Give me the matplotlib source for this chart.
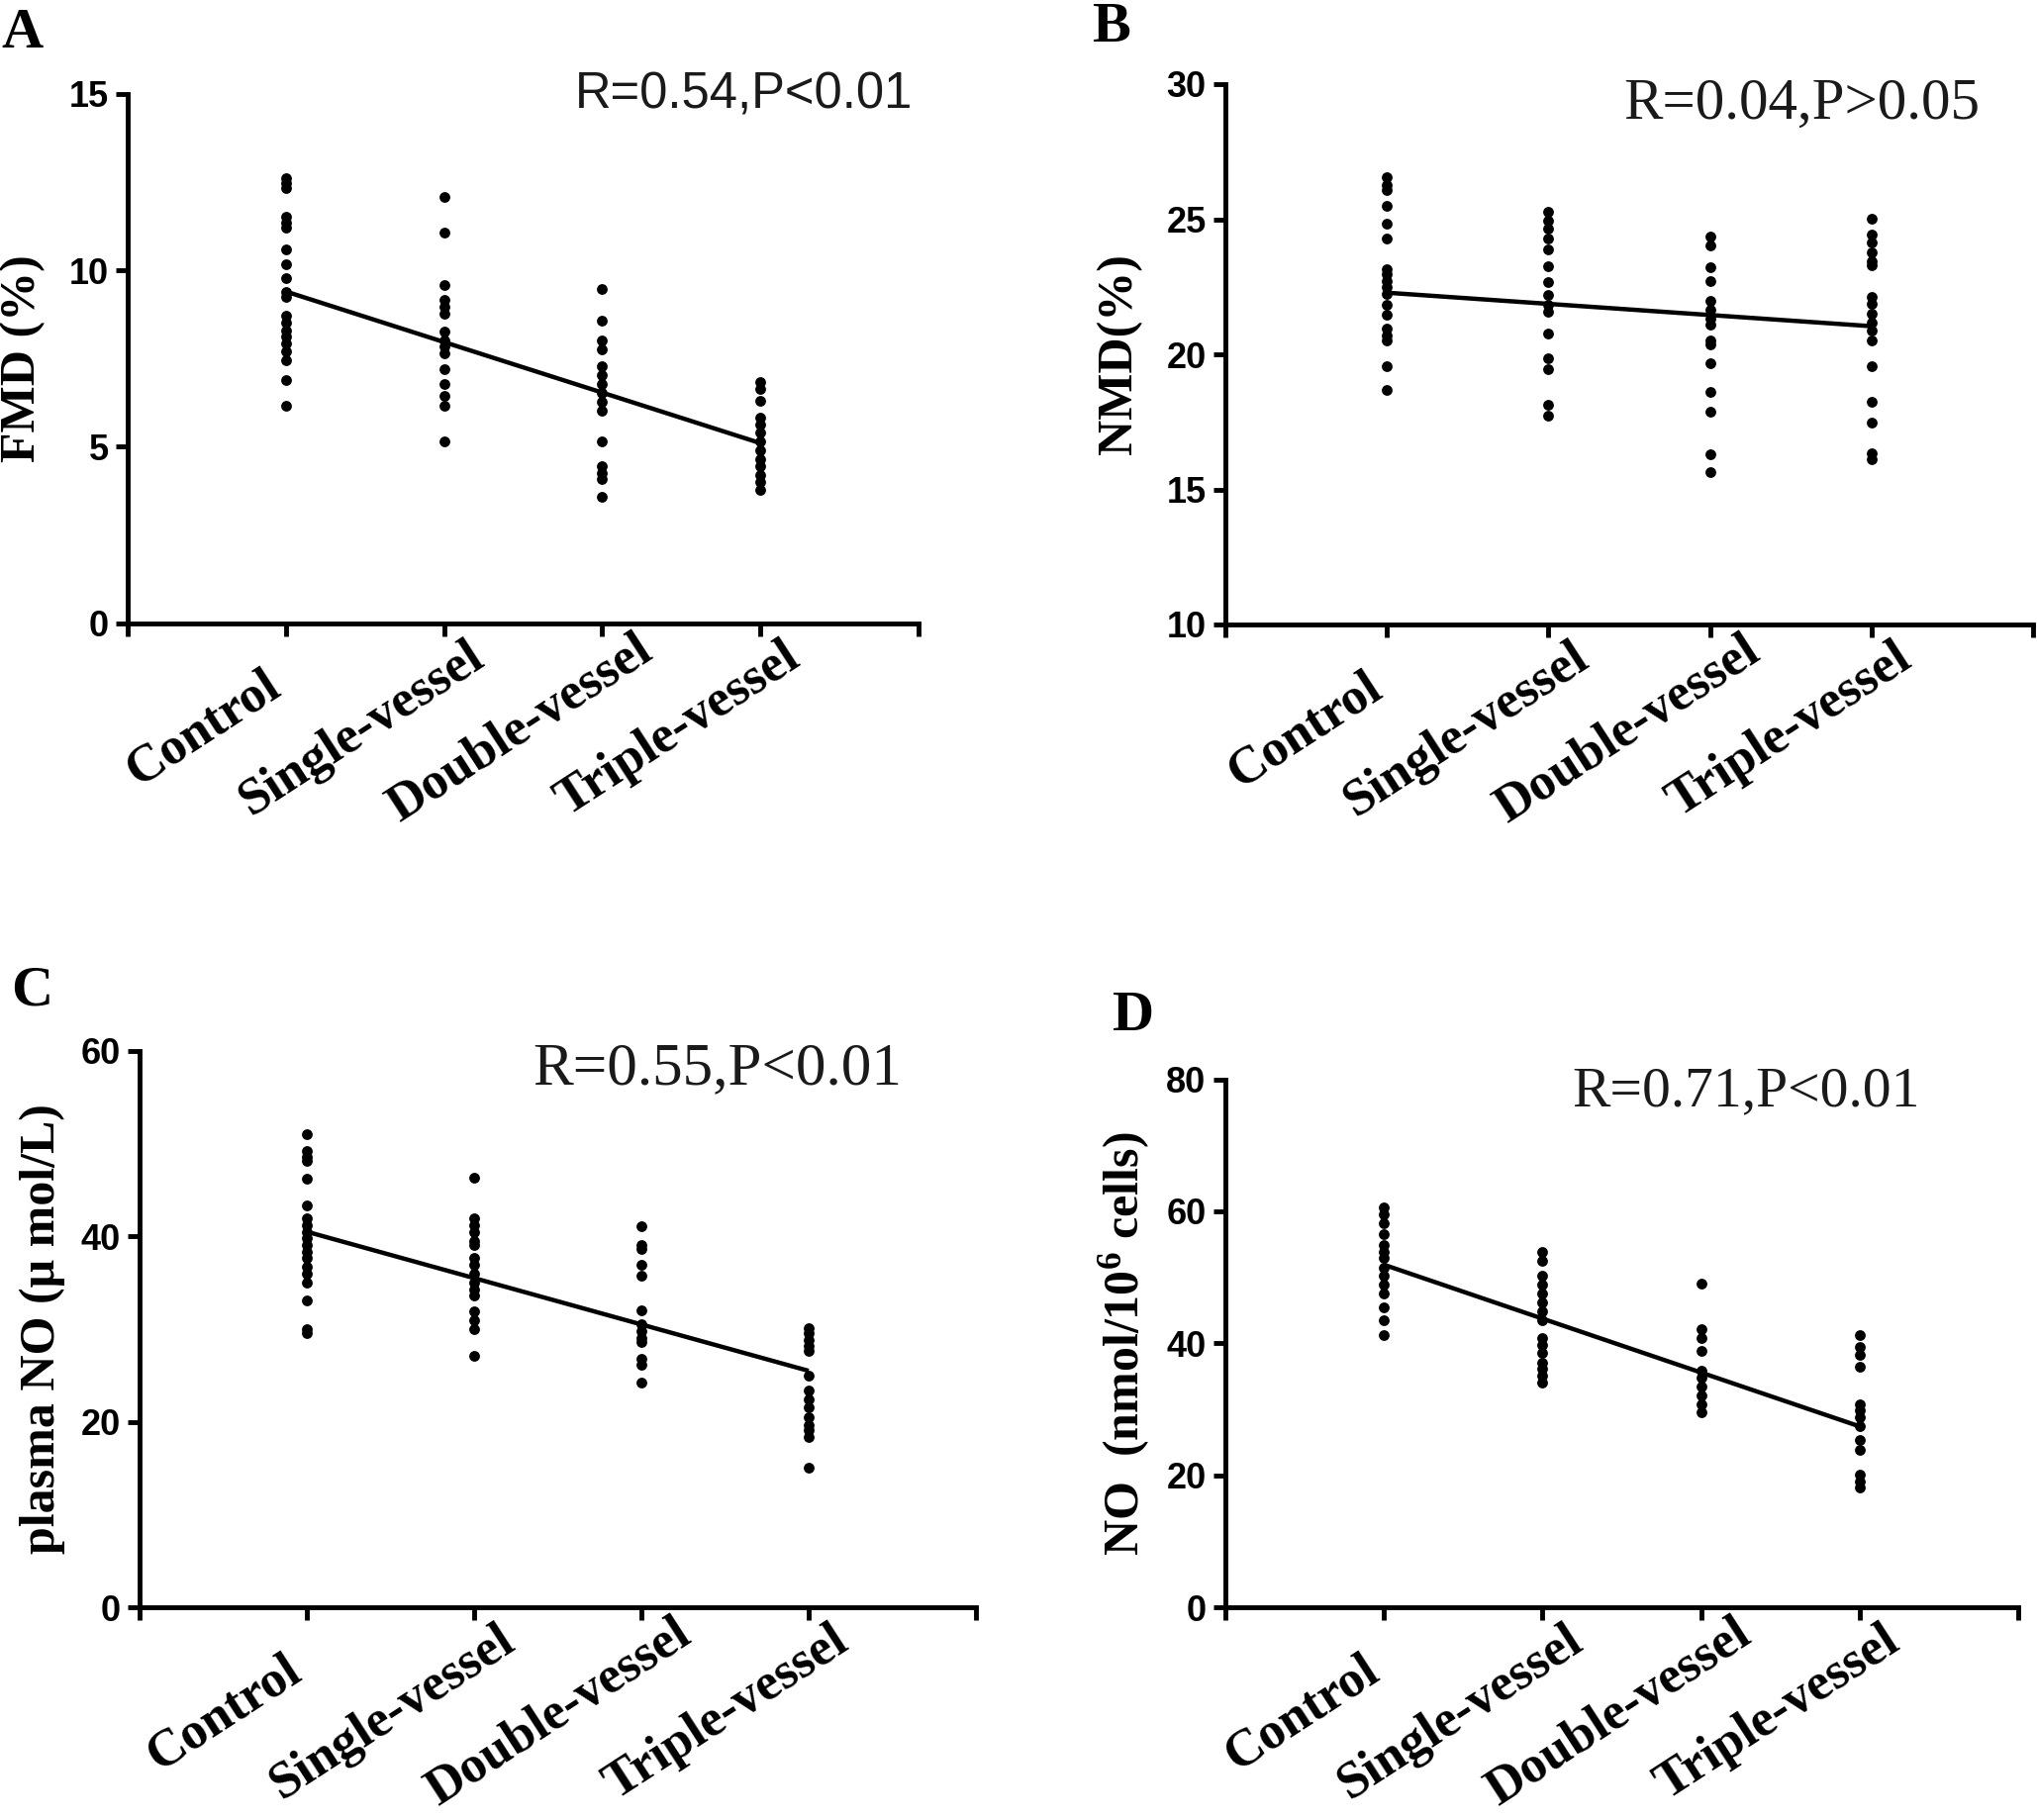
import numpy as np
import matplotlib
matplotlib.use("Agg")
import matplotlib.pyplot as plt
from matplotlib.transforms import ScaledTranslation

plt.rcParams['mathtext.fontset'] = 'custom'
plt.rcParams['mathtext.rm'] = 'Liberation Serif:bold'
plt.rcParams['mathtext.bf'] = 'Liberation Serif:bold'
plt.rcParams['mathtext.it'] = 'Liberation Serif:bold'

groups = ["Control", "Single-vessel", "Double-vessel", "Triple-vessel"]

# Panel A: FMD (%)
fmd_control = [12.62, 12.47, 12.32, 11.53, 11.34, 11.22, 10.59, 10.18, 9.77, 9.40, 9.25,
               8.71, 8.52, 8.30, 8.12, 7.92, 7.71, 7.46, 6.89, 6.17]
fmd_single = [12.07, 11.07, 9.59, 9.15, 8.96, 8.77, 8.27, 8.02, 7.83, 7.64, 7.21, 6.77,
              6.45, 6.17, 5.16]
fmd_double = [9.46, 8.58, 8.02, 7.77, 7.27, 7.02, 6.77, 6.52, 6.27, 6.02, 5.16, 4.45,
              4.26, 4.07, 3.57]
fmd_triple = [6.83, 6.64, 6.29, 5.83, 5.64, 5.39, 5.14, 4.89, 4.64, 4.45, 4.20, 4.01, 3.78]
fmd_fit = [9.40, 5.10]

# Panel B: NMD (%)
nmd_control = [26.57, 26.27, 26.07, 25.50, 24.85, 24.28, 23.16, 22.97, 22.72, 22.48, 22.23,
               21.82, 21.46, 20.97, 20.71, 20.52, 19.57, 18.68]
nmd_single = [25.29, 24.96, 24.64, 24.28, 23.87, 23.25, 22.67, 22.18, 21.82, 21.58, 20.76,
              19.86, 19.45, 18.14, 17.74]
nmd_double = [24.36, 24.03, 23.21, 22.72, 21.99, 21.66, 21.33, 21.09, 20.52, 20.35, 19.66,
              18.59, 17.87, 16.30, 15.64]
nmd_triple = [25.01, 24.44, 24.15, 23.79, 23.46, 23.30, 22.12, 21.86, 21.50, 21.17, 20.87,
              20.52, 19.57, 18.26, 17.46, 16.35, 16.10]
nmd_fit = [22.28, 21.04]

# Panel C: plasma NO (umol/L)
pno_control = [50.95, 49.14, 48.57, 48.10, 46.19, 43.33, 41.90, 41.19, 40.48, 39.76, 39.05,
               38.33, 37.62, 36.67, 35.95, 35.00, 33.10, 30.00, 29.52]
pno_single = [46.29, 41.90, 41.19, 40.48, 39.52, 39.05, 37.62, 36.90, 35.95, 35.00, 34.29,
              33.57, 31.90, 30.95, 30.00, 27.14]
pno_double = [41.05, 39.05, 38.57, 36.90, 35.71, 32.00, 30.48, 29.76, 29.05, 28.57, 26.76,
              26.10, 24.19]
pno_triple = [30.10, 29.52, 28.81, 28.19, 27.62, 25.00, 23.33, 22.38, 21.52, 20.48, 19.62,
              19.05, 18.33, 15.00]
pno_fit = [40.48, 25.48]

# Panel D: NO (nmol/10^6 cells)
cno_control = [60.6, 59.6, 58.2, 56.6, 54.9, 53.9, 52.9, 51.5, 50.2, 48.9, 47.5, 45.5,
               43.5, 41.2]
cno_single = [53.9, 52.5, 50.2, 48.9, 47.5, 46.2, 44.8, 43.5, 40.8, 39.8, 38.5, 37.1,
              36.1, 35.1, 34.1]
cno_double = [49.0, 42.2, 40.8, 38.8, 35.8, 34.8, 33.5, 32.1, 30.8, 29.5]
cno_triple = [41.2, 39.5, 38.2, 36.5, 30.8, 29.8, 28.8, 27.4, 25.4, 23.8, 20.1, 19.1, 18.1]
cno_fit = [51.9, 27.4]

tick_family, tick_size = ['Liberation Sans', 'DejaVu Sans'], 26

W, H = 2058, 1839
fig = plt.figure(figsize=(W / 100, H / 100), dpi=100)

panels = [
    dict(rect=[129, 95, 928, 629.5], data=[fmd_control, fmd_single, fmd_double, fmd_triple],
         fit=fmd_fit, ylim=(0, 15), yticks=[0, 5, 10, 15], ylabel="FMD (%)", lab_x=-0.104,
         letter="A", letter_xy=(1, 8),
         stat="R=0.54,P<0.01", stat_xy=(581, 109), stat_font=['Liberation Sans', 'DejaVu Sans'],
         stat_size=36.5),
    dict(rect=[1238, 85, 2054, 631], data=[nmd_control, nmd_single, nmd_double, nmd_triple],
         fit=nmd_fit, ylim=(10, 30), yticks=[10, 15, 20, 25, 30], ylabel="NMD(%)", lab_x=-0.103,
         letter="B", letter_xy=(1103, 2),
         stat="R=0.04,P>0.05", stat_xy=(1640, 120), stat_font=['Liberation Serif', 'DejaVu Serif'],
         stat_size=42.5),
    dict(rect=[141, 1061.6, 986, 1624], data=[pno_control, pno_single, pno_double, pno_triple],
         fit=pno_fit, ylim=(0, 60), yticks=[0, 20, 40, 60], ylabel="plasma NO (\u03bc mol/L)",
         lab_x=-0.089, letter="C", letter_xy=(11, 975),
         stat="R=0.55,P<0.01", stat_xy=(538, 1095), stat_font=['Liberation Serif', 'DejaVu Serif'],
         stat_size=44),
    dict(rect=[1238, 1090.6, 2039, 1624], data=[cno_control, cno_single, cno_double, cno_triple],
         fit=cno_fit, ylim=(0, 80), yticks=[0, 20, 40, 60, 80],
         ylabel="NO  (nmol/10$^{6}$ cells)", lab_x=-0.093, letter="D", letter_xy=(1124, 1001),
         stat="R=0.71,P<0.01", stat_xy=(1588, 1117), stat_font=['Liberation Serif', 'DejaVu Serif'],
         stat_size=41.5),
]

serif = ['Liberation Serif', 'DejaVu Serif']
xpos = np.arange(1, len(groups) + 1)

for p in panels:
    l, t, r, b = p['rect']
    ax = fig.add_axes([l / W, 1 - b / H, (r - l) / W, (b - t) / H])
    for i, vals in enumerate(p['data']):
        ax.plot(np.full(len(vals), xpos[i]), vals, 'o', color='black', markersize=7.8,
                markeredgewidth=0, clip_on=False, zorder=3)
    ax.plot([xpos[0], xpos[-1]], p['fit'], color='black', linewidth=3.2, zorder=4,
            solid_capstyle='butt')
    ax.set_xlim(0, 5)
    ax.set_ylim(*p['ylim'])
    ax.set_xticks(range(0, 6))
    ax.set_xticklabels([])
    ax.set_yticks(p['yticks'])
    ax.set_yticklabels([str(v) for v in p['yticks']], fontfamily=tick_family,
                       fontweight='bold', fontsize=tick_size)
    for s in ['top', 'right']:
        ax.spines[s].set_visible(False)
    for s in ['left', 'bottom']:
        ax.spines[s].set_linewidth(3.5)
        ax.spines[s].set_capstyle('projecting')
    ax.tick_params(axis='both', direction='out', length=9, width=3.5, pad=5, color='black')
    ax.set_ylabel(p['ylabel'], fontfamily=serif, fontweight='bold', fontsize=36)
    ax.yaxis.set_label_coords(p['lab_x'], 0.5)
    # category labels
    for i, g in enumerate(groups):
        tr = ax.get_xaxis_transform() + ScaledTranslation(-60 / 72, -77 / 72, fig.dpi_scale_trans)
        ax.text(xpos[i], 0, g, transform=tr, rotation=33, rotation_mode='anchor',
                ha='center', va='center', fontfamily=serif, fontweight='bold', fontsize=38,
                clip_on=False)
    fig.text(p['stat_xy'][0] / W, 1 - p['stat_xy'][1] / H, p['stat'], ha='left',
             va='baseline', fontfamily=p['stat_font'], fontsize=p['stat_size'], color='#1a1a1a')
    fig.text(p['letter_xy'][0] / W, 1 - p['letter_xy'][1] / H, p['letter'], ha='left', va='top',
             fontfamily=serif, fontweight='bold', fontsize=42)

fig.savefig("out.png", dpi=100, facecolor='white')
